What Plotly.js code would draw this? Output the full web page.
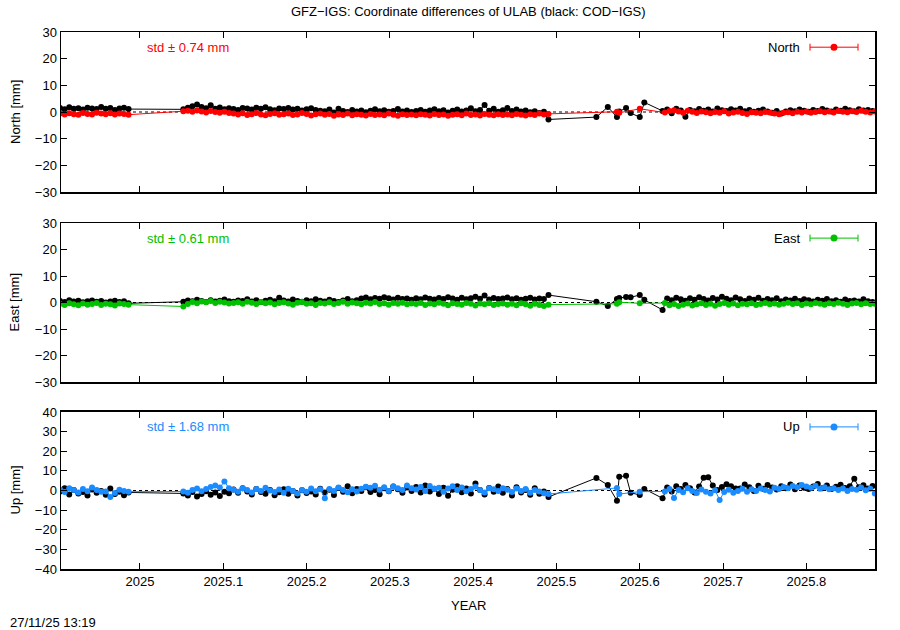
<!DOCTYPE html>
<html><head><meta charset="utf-8">
<script src="https://cdn.plot.ly/plotly-3.0.1.min.js"></script>
<style>body{margin:0;background:#fff}</style>
</head><body>
<div id="plot" style="width:900px;height:630px"></div>
<script>
// day-of-year 2025 epochs (negative = Dec 2024)
const colDays = [-35,-33,-31,-29,-27,-25,-23,-21,-19,-17,-15,-13,-11,-9,-7,-5,
19,21,23,25,27,29,31,33,35,37,39,41,43,45,47,49,51,53,55,57,59,61,63,65,67,69,71,73,75,77,79,81,83,85,87,89,91,93,95,97,99,101,103,105,107,109,111,113,115,117,119,121,123,125,127,129,131,133,135,137,139,141,143,145,147,149,151,153,155,157,159,161,163,165,167,169,171,173,175,177,179,
209,210,219,
230,232,234,236,238,240,242,244,246,248,250,252,254,256,258,260,262,264,266,268,270,272,274,276,278,280,282,284,286,288,290,292,294,296,298,300,302,304,306,308,310,312,314,316,318,320,322];
const blkDays = [-35,-33,-31,-29,-27,-25,-23,-21,-19,-17,-15,-13,-11,-9,-7,-5,
19,21,23,25,27,29,31,33,35,37,39,41,43,45,47,49,51,53,55,57,59,61,63,65,67,69,71,73,75,77,79,81,83,85,87,89,91,93,95,97,99,101,103,105,107,109,111,113,115,117,119,121,123,125,127,129,131,133,135,137,139,141,143,145,147,149,151,153,155,157,159,161,163,165,167,169,171,173,175,177,179,
200,205,209,210,213,215,219,221,
229,231,233,235,237,239,241,243,245,247,249,251,253,255,257,259,261,263,265,267,269,271,273,275,277,279,281,283,285,287,289,291,293,295,297,299,301,303,305,307,309,311,313,315,317,319,321];

const northGFZ = [-0.6,-0.9,-0.5,-0.8,-1.0,-0.4,-0.7,-0.9,-0.3,-0.6,-0.8,-0.5,-0.9,-0.6,-0.7,-1.0,
0.3,0.5,0.1,0.6,0.2,-0.2,0.4,0.0,-0.3,0.1,-0.4,
-0.6,-0.9,-0.5,-1.1,-0.8,-0.4,-0.9,-1.2,-0.7,-0.5,-1.0,-0.8,-0.6,-1.1,-0.9,-0.4,-0.7,-1.3,-0.8,-0.6,
-1.0,-0.7,-1.4,-0.9,-1.1,-0.6,-1.2,-0.8,-1.0,-1.3,-0.7,-1.1,-0.9,-1.2,-0.6,-1.0,-1.4,-0.8,-1.1,-0.9,
-1.2,-0.8,-1.0,-1.3,-0.7,-1.1,-0.9,-1.4,-1.0,-0.8,-1.2,-0.6,-1.1,-0.9,-1.3,-0.7,-1.0,-1.2,-0.8,-1.1,
-0.9,-1.2,-0.7,-1.0,-1.3,-0.8,-1.1,-0.6,-0.9,-0.7,
0.1,-0.3,1.2,
-0.2,0.4,0.7,0.2,-0.3,0.5,0.1,-0.4,0.2,-0.1,-0.5,0.0,-0.3,0.3,-0.6,-0.2,0.1,-0.4,-0.7,-0.1,-0.3,-0.5,0.0,-0.2,-0.6,-0.8,-0.3,-0.1,-0.5,0.1,-0.2,0.2,-0.3,0.0,0.3,-0.1,0.2,-0.2,0.4,0.1,-0.1,0.3,0.0,0.5,0.1,-0.2,0.2];
const northCOD = [1.5,1.0,1.8,1.2,1.4,0.9,1.6,1.3,1.1,1.9,1.2,1.5,0.8,1.3,1.6,1.1,
1.0,1.6,2.2,2.8,1.9,1.4,2.5,1.2,1.7,1.0,1.4,
1.1,0.8,1.5,1.3,0.9,1.6,1.2,1.8,1.0,0.7,1.3,1.1,1.5,0.9,1.2,0.6,1.0,1.4,0.8,0.5,
0.3,0.9,-0.2,1.2,0.4,0.0,0.8,0.2,0.6,-0.1,0.5,1.0,0.3,0.7,0.1,0.4,1.1,0.2,0.6,0.0,
0.4,0.8,0.1,0.6,1.0,0.3,0.7,-0.2,0.5,0.9,0.2,0.6,1.4,0.3,0.8,2.6,0.5,1.2,0.1,0.7,
1.5,0.4,0.9,0.2,0.6,-0.1,0.3,-0.4,0.1,-2.8,
-1.9,1.9,-1.9,0.2,1.5,-0.4,-1.9,3.6,
0.4,0.9,-0.5,1.2,0.6,-1.8,0.8,0.3,1.1,0.5,0.9,0.2,1.3,0.7,0.4,1.0,0.6,1.2,0.3,0.8,0.1,0.5,0.9,0.2,-0.3,0.4,-0.6,0.2,0.7,0.3,0.9,0.5,0.1,0.8,0.4,1.1,0.6,0.2,0.9,0.5,1.2,0.7,0.3,1.0,0.6,0.8,0.4];

const eastGFZ = [-0.5,-0.9,-0.3,-0.7,-1.0,-0.4,-0.8,-0.6,-0.2,-0.9,-0.5,-0.7,-1.1,-0.4,-0.6,-0.8,
-1.5,-0.6,0.2,-0.3,0.4,0.1,0.6,-0.2,0.3,0.0,-0.4,
-0.2,0.1,-0.5,0.3,-0.1,-0.6,0.2,-0.3,0.0,-0.7,-0.2,0.1,-0.4,-0.8,-0.1,0.2,-0.5,-0.3,-0.9,-0.2,
-0.4,0.1,-0.6,-0.2,0.3,-0.5,0.0,-0.3,-0.7,-0.1,-0.4,0.2,-0.6,-0.3,-0.8,-0.2,-0.5,-0.1,-0.7,-0.4,
-0.6,-0.2,-0.9,-0.4,-0.7,-0.1,-0.5,-1.0,-0.3,-0.6,-0.8,-0.2,-0.5,-1.1,-0.4,-0.7,-0.3,-0.9,-0.6,-0.4,
-0.8,-0.5,-1.0,-0.3,-0.7,-1.2,-0.5,-0.9,-1.3,-0.8,
-0.5,0.1,-0.3,
-0.2,-1.0,-0.6,-1.3,-0.8,-0.4,-1.1,-0.7,-0.3,-0.9,-0.5,-1.2,-0.6,-0.2,-0.8,-0.4,-1.0,-0.5,-0.7,-0.3,-0.9,-0.6,-0.2,-0.7,-0.4,-0.8,-0.5,-0.1,-0.6,-0.3,-0.9,-0.4,-0.7,-0.2,-0.5,-0.8,-0.3,-0.6,-0.1,-0.5,-0.9,-0.4,-0.2,-0.7,-0.3,-0.6,-0.5];
const eastCOD = [0.6,0.2,0.9,0.4,0.7,0.1,0.5,0.8,0.3,0.6,0.0,0.4,0.7,0.2,0.5,-0.3,
0.3,0.8,0.5,1.0,0.6,0.2,0.9,0.4,0.7,1.1,0.5,
0.3,0.8,0.6,1.2,0.4,0.9,0.2,0.7,1.0,0.5,1.8,0.8,0.4,1.1,0.6,0.3,0.9,0.5,1.2,0.7,
0.4,1.0,0.6,0.2,0.8,1.3,0.5,0.9,1.5,1.9,1.2,1.7,1.4,2.0,1.6,1.1,1.8,1.3,1.5,1.0,
1.6,1.2,1.9,1.4,1.1,1.7,1.3,2.0,1.5,1.0,1.8,1.2,1.6,2.2,1.4,2.6,1.1,1.7,1.3,1.5,
1.9,1.2,1.6,1.0,1.4,1.8,1.1,1.5,1.3,2.8,
0.3,-1.3,1.3,1.7,2.1,2.0,2.8,1.0,
-2.8,1.5,0.9,1.8,1.2,0.7,1.6,1.0,2.0,1.3,0.8,1.7,1.1,2.2,1.4,0.9,1.9,1.2,0.6,1.5,1.0,1.8,0.7,1.3,0.9,1.6,0.5,1.1,0.8,1.4,0.6,1.2,0.9,0.4,1.0,0.7,1.3,0.5,0.9,0.3,1.1,0.6,0.8,0.4,1.2,0.5,0.2];

const upGFZ = [0.5,-0.8,1.2,0.3,-1.0,0.8,-0.4,1.5,0.2,-0.7,-0.5,-3.3,-1.3,0.4,-0.2,-0.6,
-0.5,-1.2,0.3,1.0,-0.4,0.8,1.8,2.5,1.5,4.6,1.2,
0.4,-0.6,1.1,0.2,-1.0,0.7,-0.3,1.4,0.0,-0.8,0.5,-1.2,0.9,-0.2,-1.5,0.3,-0.7,1.0,-0.4,0.6,
-4.0,0.8,-0.3,1.5,0.2,-0.9,0.6,-0.5,0.9,1.9,1.4,2.4,0.4,1.6,-0.3,2.0,1.1,0.3,2.6,1.2,
0.5,1.8,-0.2,2.3,0.9,1.4,-0.6,1.0,2.1,0.3,1.5,-0.4,0.8,1.9,0.2,-1.0,1.2,0.6,-0.3,1.1,
0.4,-0.8,1.0,-0.2,0.7,-1.1,0.3,-0.5,-1.4,-1.8,
1.3,-1.8,-0.6,
-0.5,0.8,-3.8,0.3,-0.9,1.2,-0.2,-1.3,0.5,-0.6,-1.5,0.1,-4.8,-0.8,0.4,-1.2,-0.3,0.9,-0.7,0.6,-0.2,1.0,0.3,-0.5,1.4,0.7,1.8,1.1,2.3,1.6,2.8,2.0,1.4,2.4,0.9,1.7,0.6,1.2,0.2,1.0,-0.3,0.8,0.4,1.5,0.1,0.9,-1.5];
const upCOD = [-0.5,1.2,-2.0,0.3,-1.5,-0.8,-2.6,0.5,-1.2,-0.3,-2.2,1.0,-1.8,-0.6,-2.4,-1.0,
-1.5,-2.5,-0.8,-3.0,-1.8,-0.4,-2.2,-1.0,-2.8,-0.6,-1.4,
0.5,-1.2,1.2,-0.5,-2.0,0.8,-0.8,-1.6,0.2,-2.4,-0.9,0.6,-1.7,-0.3,-2.6,0.1,-1.3,-0.5,-2.1,0.9,
-1.0,0.4,-2.3,1.3,-0.6,2.2,-1.4,0.7,-0.2,1.6,-0.8,0.3,-1.9,1.1,-0.4,2.0,0.6,-1.2,1.5,-0.3,
1.8,-1.0,2.6,-0.5,0.9,-1.8,1.4,-2.7,0.4,2.2,-0.9,1.0,-1.5,3.5,0.2,-2.0,1.3,-0.7,2.0,-1.2,
0.8,-2.5,1.6,-1.0,0.3,-2.2,1.1,-1.6,-0.5,-3.3,
6.4,2.8,-5.2,7.0,7.5,-1.1,-2.3,0.8,
-4.0,1.5,-0.5,2.2,0.8,2.8,1.2,-1.0,2.0,6.5,6.8,2.5,0.3,1.8,3.2,2.2,1.0,1.0,3.0,1.6,-0.2,2.4,0.9,2.8,1.5,0.5,2.1,1.2,3.0,0.6,2.6,1.4,0.8,2.0,3.3,1.1,2.5,0.7,1.9,2.9,1.3,2.2,6.0,1.6,2.7,1.0,2.3];

const tickVals = [2025,2025.1,2025.2,2025.3,2025.4,2025.5,2025.6,2025.7,2025.8];
const tickText = ["2025","2025.1","2025.2","2025.3","2025.4","2025.5","2025.6","2025.7","2025.8"];
const panelNames = ["North","East","Up"];
const panelStd = ["0.74","0.61","1.68"];
const panelColors = ["#ff0000","#00c000","#1a8cff"];

const toYear = d => 2025 + d/365;
const xCol = colDays.map(toYear);
const xBlk = blkDays.map(toYear);
const gfz = [northGFZ, eastGFZ, upGFZ];
const cod = [northCOD, eastCOD, upCOD];

const FONT = "Liberation Sans, Arial, sans-serif";
const traces = [];
for (let i = 0; i < 3; i++) {
  const sx = i === 0 ? 'x' : 'x' + (i+1);
  const sy = i === 0 ? 'y' : 'y' + (i+1);
  traces.push({x: xBlk, y: cod[i], xaxis: sx, yaxis: sy, type: 'scatter', mode: 'lines+markers',
    line: {color: '#000', width: 1}, marker: {color: '#000', size: 6}, showlegend: false, cliponaxis: true});
  traces.push({x: xCol, y: gfz[i], xaxis: sx, yaxis: sy, type: 'scatter', mode: 'lines+markers',
    line: {color: panelColors[i], width: 1}, marker: {color: panelColors[i], size: 6}, showlegend: false, cliponaxis: true});
}

const xr = [2024.9052, 2025.8824];
const domains = [[0.7020, 1], [0.3482, 0.6443], [0, 0.2924]];
const yRanges = [[-30,30],[-30,30],[-40,40]];
const layout = {
  width: 900, height: 630,
  margin: {l: 61, r: 25, t: 32, b: 61},
  paper_bgcolor: '#fff', plot_bgcolor: '#fff',
  font: {family: FONT, size: 13, color: '#000'},
  showlegend: false,
  shapes: [], annotations: []
};
for (let i = 0; i < 3; i++) {
  const xk = i === 0 ? 'xaxis' : 'xaxis' + (i+1);
  const yk = i === 0 ? 'yaxis' : 'yaxis' + (i+1);
  const ya = i === 0 ? 'y' : 'y' + (i+1);
  const xa = i === 0 ? 'x' : 'x' + (i+1);
  layout[xk] = {domain: [0,1], anchor: ya, range: xr, tickvals: tickVals, ticktext: tickText,
    showticklabels: i === 2, ticks: 'inside', ticklen: 6, tickcolor: '#000', mirror: 'ticks',
    showline: true, linecolor: '#000', linewidth: 1.5, showgrid: false, zeroline: false,
    tickfont: {size: 13, family: FONT}};
  if (i > 0) layout[xk].matches = 'x';
  layout[yk] = {domain: domains[i], anchor: xa, range: yRanges[i], dtick: 10, tick0: 0,
    ticks: 'inside', ticklen: 6, tickcolor: '#000', mirror: 'ticks', showline: true, linecolor: '#000',
    linewidth: 1.5, showgrid: false, zeroline: false, tickfont: {size: 13, family: FONT}};
  // dotted zero reference line
  layout.shapes.push({type: 'line', xref: xa + ' domain', yref: ya, x0: 0, x1: 1, y0: 0, y1: 0,
    line: {color: '#000', width: 1, dash: 'dot'}, layer: 'below'});
  // legend sample (yerror-style key)
  const ly = 0.905;
  const lx0 = (810-61)/814, lx1 = (858-61)/814, lxc = (834-61)/814;
  const c = panelColors[i];
  layout.shapes.push({type: 'line', xref: 'paper', yref: ya + ' domain', x0: lx0, x1: lx1, y0: ly, y1: ly, line: {color: c, width: 1}});
  [lx0, lx1].forEach(xx => layout.shapes.push({type: 'line', xref: 'paper', yref: ya + ' domain', xsizemode: 'scaled',
    ysizemode: 'pixel', yanchor: ly, x0: xx, x1: xx, y0: -3.5, y1: 3.5, line: {color: c, width: 1}}));
  layout.shapes.push({type: 'circle', xref: 'paper', yref: ya + ' domain', xsizemode: 'pixel', ysizemode: 'pixel',
    xanchor: lxc, yanchor: ly, x0: -3.5, x1: 3.5, y0: -3.5, y1: 3.5, fillcolor: c, line: {color: c, width: 0}});
  layout.annotations.push({xref: 'paper', yref: ya + ' domain', x: (802-61)/814, y: ly, xanchor: 'right', yanchor: 'middle',
    text: panelNames[i], showarrow: false, font: {size: 13, color: '#000', family: FONT}});
  layout.annotations.push({xref: 'paper', yref: ya + ' domain', x: (145-61)/814, y: ly, xanchor: 'left', yanchor: 'middle',
    text: 'std ± ' + panelStd[i] + ' mm', showarrow: false, font: {size: 13, color: c, family: FONT}});
  layout.annotations.push({xref: 'paper', yref: ya + ' domain', x: 0, xshift: -46, y: 0.5, xanchor: 'center', yanchor: 'middle',
    textangle: -90, text: panelNames[i] + ' [mm]', showarrow: false, font: {size: 13, color: '#000', family: FONT}});
}
layout.annotations.push({xref: 'paper', yref: 'paper', x: 0.5, y: 1, yshift: 30, yanchor: 'top', showarrow: false,
  text: 'GFZ\u2212IGS: Coordinate differences of ULAB (black: COD\u2212IGS)', font: {size: 13, family: FONT}});
layout.annotations.push({xref: 'paper', yref: 'paper', x: 0.5, y: 0, yshift: -36, yanchor: 'middle', showarrow: false,
  text: 'YEAR', font: {size: 13, family: FONT}});
layout.annotations.push({xref: 'paper', yref: 'paper', x: 0, xshift: -53, y: 0, yshift: -53, xanchor: 'left', yanchor: 'middle', showarrow: false,
  text: '27/11/25 13:19', font: {size: 13, family: FONT}});

Plotly.newPlot('plot', traces, layout, {staticPlot: true, displayModeBar: false});
</script>
</body></html>
